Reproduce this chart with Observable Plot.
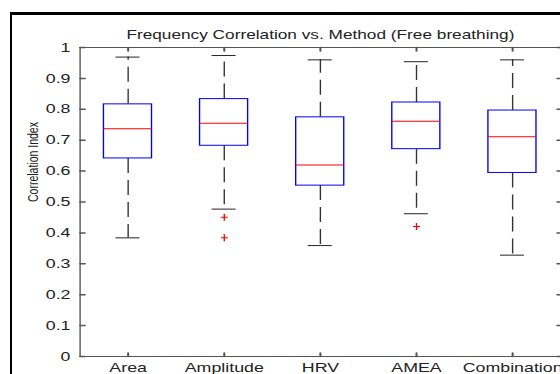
<!DOCTYPE html>
<html>
<head>
<meta charset="utf-8">
<script src="https://cdn.jsdelivr.net/npm/d3@7"></script>
<script src="https://cdn.jsdelivr.net/npm/@observablehq/plot@0.6"></script>
<style>
  html, body { margin: 0; padding: 0; background: #fff; overflow: hidden; width: 560px; height: 374px; }
  #wrap { position: relative; width: 560px; height: 374px; overflow: hidden; background: #fff; }
  #wrap svg { position: absolute; left: 0; top: 0; overflow: hidden; }
  #border { position: absolute; left: 10px; top: 12px; width: 548px; height: 359px;
            border-top: 3px solid #000; border-left: 2px solid #000; pointer-events: none; }
</style>
</head>
<body>
<div id="wrap"><div id="border"></div></div>
<script>
// ---- data ----
const categories = ["Area", "Amplitude", "HRV", "AMEA", "Combination"];
const whiskerLow  = [0.384, 0.477, 0.359, 0.462, 0.328];
const q1          = [0.641, 0.682, 0.553, 0.671, 0.594];
const median      = [0.737, 0.755, 0.620, 0.761, 0.711];
const q3          = [0.816, 0.833, 0.774, 0.822, 0.796];
const whiskerHigh = [0.969, 0.974, 0.960, 0.954, 0.960];
const outlierCategory = ["Amplitude", "Amplitude", "AMEA"];
const outlierValue    = [0.451, 0.384, 0.421];
const yTicks = [0, 0.1, 0.2, 0.3, 0.4, 0.5, 0.6, 0.7, 0.8, 0.9, 1];
const yTickLabels = ["0", "0.1", "0.2", "0.3", "0.4", "0.5", "0.6", "0.7", "0.8", "0.9", "1"];
const title = "Frequency Correlation vs. Method (Free breathing)";
const yLabel = "Correlation Index";

// ---- tables built from arrays ----
const boxes = categories.map((c, k) => ({
  cat: c, i: k + 1, lo: whiskerLow[k], q1: q1[k], med: median[k], q3: q3[k], hi: whiskerHigh[k]
}));
const outliers = outlierCategory.map((c, k) => ({ i: categories.indexOf(c) + 1, v: outlierValue[k] }));
const xTicks = categories.map((c, k) => k + 1);
const xDomain = [0.5, categories.length + 0.5];
const yDomain = [0, 1];

const W = 409, H = 374, OUT_W = 560;
const SX = OUT_W / W; // horizontal stretch of the original figure
const plusSymbol = {
  draw(context, size) {
    const r = Math.sqrt(size / Math.PI);
    const rx = r / SX;
    context.moveTo(-rx, 0); context.lineTo(rx, 0);
    context.moveTo(0, -r); context.lineTo(0, r);
  }
};
const tickShape = { draw(context, l) { context.moveTo(0, 0); context.lineTo(0, -l); } };

const axisColor = "#555";
const boxW = 0.5, capW = 0.25, tickLen = 3.5;

const chart = Plot.plot({
  width: W,
  height: H,
  marginLeft: 58,
  marginRight: 0,
  marginTop: 47,
  marginBottom: 18,
  style: { fontFamily: "'Liberation Sans', Arial, sans-serif", fontSize: "13px", color: "#222", background: "transparent" },
  x: { type: "linear", domain: xDomain, label: null },
  y: { domain: yDomain, label: null },
  marks: [
    // axes box lines
    Plot.ruleY(yDomain, { stroke: axisColor }),
    Plot.ruleX([xDomain[0]], { stroke: axisColor }),
    // inward ticks
    Plot.vector(yTicks, { x: xDomain[0], y: (d) => d, length: tickLen, rotate: 90, anchor: "start", shape: tickShape, stroke: axisColor }),
    Plot.vector(yTicks, { x: xDomain[1], y: (d) => d, length: tickLen / SX, rotate: -90, anchor: "start", shape: tickShape, stroke: axisColor }),
    Plot.vector(xTicks, { x: (d) => d, y: yDomain[1], length: tickLen, rotate: 180, anchor: "start", shape: tickShape, stroke: axisColor }),
    Plot.vector(xTicks, { x: (d) => d, y: yDomain[0], length: tickLen, rotate: 0, anchor: "start", shape: tickShape, stroke: axisColor }),
    // tick labels
    Plot.axisY(yTicks, { anchor: "left", tickSize: 0, tickPadding: 7, tickFormat: (d) => yTickLabels[yTicks.indexOf(d)], fill: "#222", fontSize: 13, label: null }),
    Plot.axisX(xTicks, { anchor: "bottom", tickSize: 0, tickPadding: 6, tickFormat: (d) => categories[d - 1], fill: "#222", fontSize: 13, label: null }),
    // whiskers (dashed)
    Plot.ruleX(boxes, { x: "i", y1: "q3", y2: "hi", stroke: "#333", strokeDasharray: "15,7" }),
    Plot.ruleX(boxes, { x: "i", y1: "q1", y2: "lo", stroke: "#333", strokeDasharray: "15,7" }),
    // whisker caps
    Plot.ruleY(boxes, { x1: (d) => d.i - capW / 2, x2: (d) => d.i + capW / 2, y: "hi", stroke: "#222" }),
    Plot.ruleY(boxes, { x1: (d) => d.i - capW / 2, x2: (d) => d.i + capW / 2, y: "lo", stroke: "#222" }),
    // boxes
    Plot.rect(boxes, { x1: (d) => d.i - boxW / 2, x2: (d) => d.i + boxW / 2, y1: "q1", y2: "q3", fill: "white", stroke: "#0000ff" }),
    // medians
    Plot.ruleY(boxes, { x1: (d) => d.i - boxW / 2, x2: (d) => d.i + boxW / 2, y: "med", stroke: "#ff0000" }),
    // outliers
    Plot.dot(outliers, { x: "i", y: "v", symbol: plusSymbol, r: 3.5, stroke: "#ff0000", fill: "none", strokeWidth: 1 }),
    // title
    Plot.text([title], { frameAnchor: "top", dy: -17, fontSize: 12.6, fill: "#222" }),
    // y label
    Plot.text([yLabel], { frameAnchor: "left", dx: -34, rotate: -90, fontSize: 10.5, fill: "#222", letterSpacing: "0.4px" })
  ]
});
// stretch horizontally inside the SVG itself (viewBox stays W x H)
chart.setAttribute("width", OUT_W);
chart.setAttribute("height", H);
chart.setAttribute("viewBox", `0 0 ${W} ${H}`);
chart.setAttribute("preserveAspectRatio", "none");
chart.style.maxWidth = "none";
chart.style.width = OUT_W + "px";
chart.style.height = H + "px";
const wrap = document.getElementById("wrap");
wrap.insertBefore(chart, wrap.firstChild);
</script>
</body>
</html>
